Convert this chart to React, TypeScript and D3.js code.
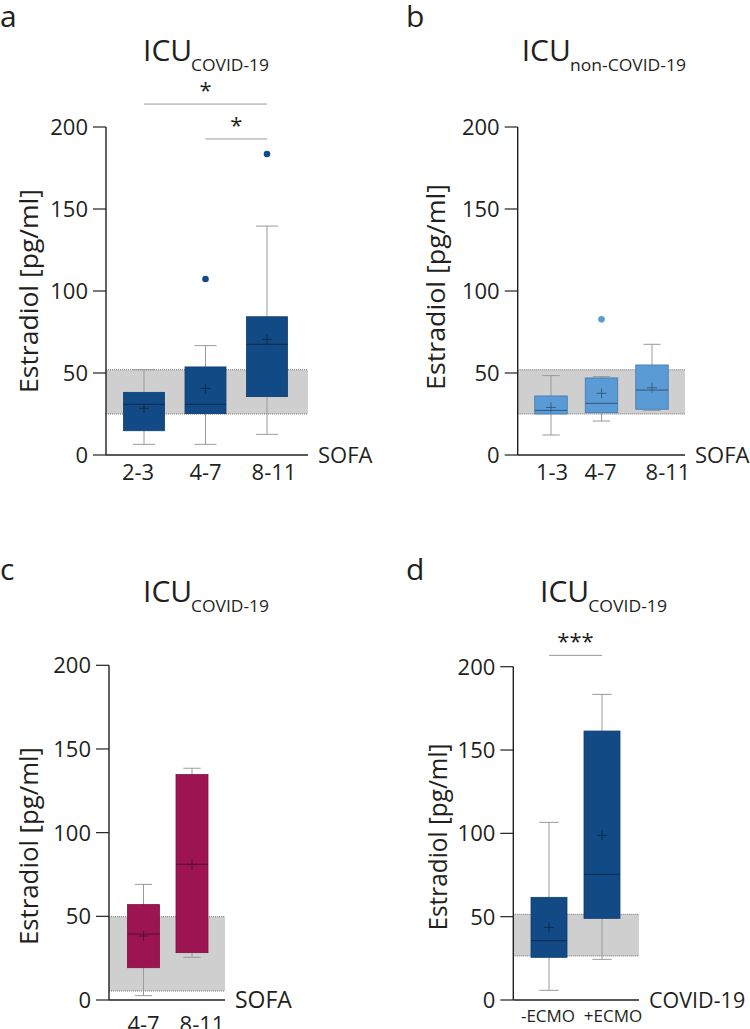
import React from "react";
import * as d3 from "d3";

// ---------- DATA ----------
const aCategories = ["2-3", "4-7", "8-11"];
const aLow = [6.5, 6.5, 12.6];
const aQ1 = [14.8, 25.2, 35.6];
const aMedian = [30.9, 30.9, 67.5];
const aQ3 = [38.2, 53.7, 84.3];
const aHigh = [52, 66.7, 139.6];
const aMean = [28.5, 40.6, 70.5];
const aOutliers: (number | null)[] = [null, 107.3, 183.5];
const aReference = [25, 52];

const bCategories = ["1-3", "4-7", "8-11"];
const bLow = [12.2, 20.7, 27.2];
const bQ1 = [25, 25.8, 27.9];
const bMedian = [27.2, 31.5, 39.6];
const bQ3 = [36, 47, 54.9];
const bHigh = [48.4, 47.8, 67.5];
const bMean = [29, 37.6, 41];
const bOutliers: (number | null)[] = [null, 82.7, null];
const bReference = [25, 52];

const cCategories = ["4-7", "8-11"];
const cLow = [2.6, 25.5];
const cQ1 = [19.3, 28.3];
const cMedian = [39.4, 81.1];
const cQ3 = [57, 134.7];
const cHigh = [69.1, 138.5];
const cMean = [38.2, 81];
const cOutliers: (number | null)[] = [null, null];
const cReference = [5.4, 49.8];

const dCategories = ["-ECMO", "+ECMO"];
const dLow = [5.8, 24.4];
const dQ1 = [25.6, 49];
const dMedian = [35.6, 75.4];
const dQ3 = [61.6, 161.4];
const dHigh = [106.6, 183.4];
const dMean = [43.6, 98.8];
const dOutliers: (number | null)[] = [null, null];
const dReference = [26.4, 51.4];

const yTicks = [0, 50, 100, 150, 200];

const aSignificance = [
  { from: 0, to: 2, label: "*", level: 214 },
  { from: 1, to: 2, label: "*", level: 192.7 },
];
const dSignificance = [{ from: 0, to: 1, label: "***", level: 206.8 }];

// ---------- STYLE / LAYOUT ----------
const TEXT = "#231f20";
const FONT = "'Open Sans', sans-serif";

type Panel = {
  letter: string;
  letterX: number;
  letterY: number;
  sub: string;
  titleX: number;
  titleY: number;
  subX: number;
  subLen: number;
  axisX: number;
  xEnd: number;
  yTop: number;
  yBottom: number;
  firstX: number;
  lastX: number;
  boxW: number;
  color: string;
  stroke: string;
  cats: string[];
  low: number[];
  q1: number[];
  med: number[];
  q3: number[];
  high: number[];
  mean: number[];
  outliers: (number | null)[];
  ref: number[];
  labelDx: number[];
  labelY: number;
  labelFont: number;
  xTitle: string;
  xTitleFont: number;
  yLabelX: number;
  yLabelY: number;
  yLabelLen: number;
  sig: { from: number; to: number; label: string; level: number }[];
};

const panels: Panel[] = [
  {
    letter: "a", letterX: 0, letterY: 27,
    sub: "COVID-19", titleX: 143, titleY: 61, subX: 191, subLen: 78,
    axisX: 106, xEnd: 308, yTop: 127, yBottom: 455,
    firstX: 144, lastX: 267, boxW: 41,
    color: "#124a85", stroke: "#0e3d6e",
    cats: aCategories, low: aLow, q1: aQ1, med: aMedian, q3: aQ3, high: aHigh,
    mean: aMean, outliers: aOutliers, ref: aReference,
    labelDx: [-6, 0, 7], labelY: 480, labelFont: 22,
    xTitle: "SOFA", xTitleFont: 22,
    yLabelX: 38, yLabelY: 291, yLabelLen: 204,
    sig: aSignificance,
  },
  {
    letter: "b", letterX: 406, letterY: 27,
    sub: "non-COVID-19", titleX: 521.7, titleY: 61, subX: 570, subLen: 116,
    axisX: 517.7, xEnd: 685, yTop: 127, yBottom: 455,
    firstX: 551, lastX: 652, boxW: 32.5,
    color: "#5b9bd5", stroke: "#3f78b4",
    cats: bCategories, low: bLow, q1: bQ1, med: bMedian, q3: bQ3, high: bHigh,
    mean: bMean, outliers: bOutliers, ref: bReference,
    labelDx: [1, -1, 16], labelY: 480, labelFont: 22,
    xTitle: "SOFA", xTitleFont: 22,
    yLabelX: 445, yLabelY: 287, yLabelLen: 206,
    sig: [],
  },
  {
    letter: "c", letterX: 0, letterY: 580,
    sub: "COVID-19", titleX: 143, titleY: 601.7, subX: 191, subLen: 78,
    axisX: 109, xEnd: 225, yTop: 665.3, yBottom: 1000,
    firstX: 143.5, lastX: 192, boxW: 32,
    color: "#9c1552", stroke: "#7d1142",
    cats: cCategories, low: cLow, q1: cQ1, med: cMedian, q3: cQ3, high: cHigh,
    mean: cMean, outliers: cOutliers, ref: cReference,
    labelDx: [0, 10], labelY: 1032, labelFont: 22,
    xTitle: "SOFA", xTitleFont: 23,
    yLabelX: 38, yLabelY: 846, yLabelLen: 198,
    sig: [],
  },
  {
    letter: "d", letterX: 406, letterY: 580,
    sub: "COVID-19", titleX: 540, titleY: 601.7, subX: 588.3, subLen: 78.7,
    axisX: 513.3, xEnd: 639, yTop: 666.7, yBottom: 1000,
    firstX: 549, lastX: 602, boxW: 36,
    color: "#124a85", stroke: "#0e3d6e",
    cats: dCategories, low: dLow, q1: dQ1, med: dMedian, q3: dQ3, high: dHigh,
    mean: dMean, outliers: dOutliers, ref: dReference,
    labelDx: [-1, 11], labelY: 1022, labelFont: 17,
    xTitle: "COVID-19", xTitleFont: 21.5,
    yLabelX: 446.7, yLabelY: 837, yLabelLen: 187,
    sig: dSignificance,
  },
];

function BoxPanel({ p }: { p: Panel }) {
  const y = d3.scaleLinear().domain([0, 200]).range([p.yBottom, p.yTop]);
  const x = d3.scalePoint<string>().domain(p.cats).range([p.firstX, p.lastX]);
  const dark = d3.color(p.color)!.darker(1.6).formatHex();
  const hw = p.boxW / 2;
  const capW = p.boxW * 0.27;
  return (
    <g>
      <text x={p.letterX} y={p.letterY} fontSize={30} fill={TEXT} fontFamily={FONT}>
        {p.letter}
      </text>
      <text x={p.titleX} y={p.titleY} fontSize={30} fill={TEXT} fontFamily={FONT}>
        ICU
      </text>
      <text x={p.subX} y={p.titleY + 10} fontSize={15.5} fill={TEXT} fontFamily={FONT}
        textLength={p.subLen} lengthAdjust="spacingAndGlyphs">
        {p.sub}
      </text>

      {/* reference band */}
      <rect x={p.axisX} y={y(p.ref[1])} width={p.xEnd - p.axisX}
        height={y(p.ref[0]) - y(p.ref[1])} fill="#cfcfcf" />
      {p.ref.map((r, i) => (
        <line key={i} x1={p.axisX} x2={p.xEnd} y1={y(r)} y2={y(r)}
          stroke="#555" strokeWidth={0.8} strokeDasharray="1,1" />
      ))}

      {/* boxes */}
      {p.cats.map((c, i) => {
        const cx = x(c)!;
        return (
          <g key={c}>
            <line x1={cx} x2={cx} y1={y(p.low[i])} y2={y(p.high[i])} stroke="#9a9a9a" strokeWidth={1} />
            <line x1={cx - capW} x2={cx + capW} y1={y(p.low[i])} y2={y(p.low[i])} stroke="#9a9a9a" strokeWidth={1} />
            <line x1={cx - capW} x2={cx + capW} y1={y(p.high[i])} y2={y(p.high[i])} stroke="#9a9a9a" strokeWidth={1} />
            <rect x={cx - hw} y={y(p.q3[i])} width={p.boxW} height={y(p.q1[i]) - y(p.q3[i])}
              fill={p.color} stroke={p.stroke} strokeWidth={0.8} />
            <line x1={cx - hw} x2={cx + hw} y1={y(p.med[i])} y2={y(p.med[i])} stroke={dark} strokeWidth={1} />
            <line x1={cx - 5} x2={cx + 5} y1={y(p.mean[i])} y2={y(p.mean[i])} stroke={dark} strokeWidth={0.9} />
            <line x1={cx} x2={cx} y1={y(p.mean[i]) - 5} y2={y(p.mean[i]) + 5} stroke={dark} strokeWidth={0.9} />
            {p.outliers[i] != null && (
              <circle cx={cx} cy={y(p.outliers[i] as number)} r={3.3} fill={p.color} />
            )}
            <text x={cx + p.labelDx[i]} y={p.labelY} fontSize={p.labelFont} fill={TEXT}
              fontFamily={FONT} textAnchor="middle">
              {c}
            </text>
          </g>
        );
      })}

      {/* axes */}
      <line x1={p.axisX} x2={p.axisX} y1={y(200)} y2={y(0)} stroke={TEXT} strokeWidth={1.4} />
      <line x1={p.axisX} x2={p.xEnd} y1={y(0)} y2={y(0)} stroke={TEXT} strokeWidth={1.4} />
      {yTicks.map((t) => (
        <g key={t}>
          <line x1={p.axisX - 13} x2={p.axisX} y1={y(t)} y2={y(t)} stroke={TEXT} strokeWidth={1.2} />
          <text x={p.axisX - 18} y={y(t) + 8} fontSize={22} fill={TEXT} fontFamily={FONT} textAnchor="end">
            {t}
          </text>
        </g>
      ))}
      <text x={p.xEnd + 10} y={y(0) + 8} fontSize={p.xTitleFont} fill={TEXT} fontFamily={FONT}>
        {p.xTitle}
      </text>
      <text transform={`translate(${p.yLabelX},${p.yLabelY}) rotate(-90)`} fontSize={26}
        fill={TEXT} fontFamily={FONT} textAnchor="middle" textLength={p.yLabelLen}
        lengthAdjust="spacingAndGlyphs">
        Estradiol [pg/ml]
      </text>

      {/* significance */}
      {p.sig.map((s, i) => {
        const x1 = x(p.cats[s.from])!;
        const x2 = x(p.cats[s.to])!;
        const ly = y(s.level);
        return (
          <g key={i}>
            <line x1={x1} x2={x2} y1={ly} y2={ly} stroke="#9a9a9a" strokeWidth={1} />
            <text x={(x1 + x2) / 2} y={ly - 6} fontSize={22} fill={TEXT} fontFamily={FONT} textAnchor="middle">
              {s.label}
            </text>
          </g>
        );
      })}
    </g>
  );
}

export default function App() {
  return (
    <svg width={750} height={1029} style={{ position: "absolute", left: 0, top: 0, background: "#fff" }}>
      <rect width={750} height={1029} fill="#fff" />
      {panels.map((p) => (
        <BoxPanel key={p.letter} p={p} />
      ))}
    </svg>
  );
}
